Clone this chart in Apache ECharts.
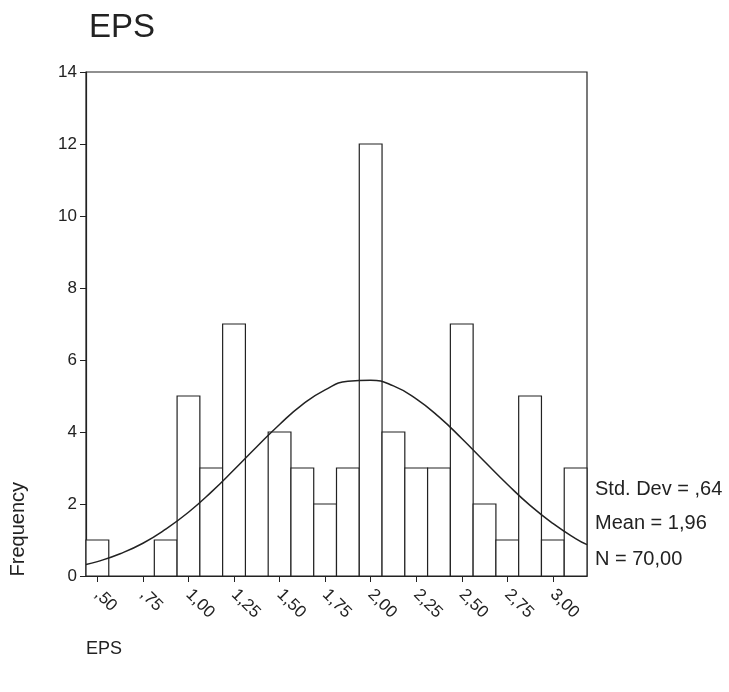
<!DOCTYPE html>
<html>
<head>
<meta charset="utf-8">
<script src="https://cdn.jsdelivr.net/npm/echarts@6/dist/echarts.min.js"></script>
<style>html,body{margin:0;padding:0;background:#fff;}#c{width:729px;height:692px;}</style>
</head>
<body>
<div id="c"></div>
<script>
// ---- data ----
const binCenters = [0.5,0.625,0.75,0.875,1.0,1.125,1.25,1.375,1.5,1.625,1.75,1.875,2.0,2.125,2.25,2.375,2.5,2.625,2.75,2.875,3.0,3.125];
const counts     = [1,0,0,1,5,3,7,0,4,3,2,3,12,4,3,3,7,2,1,5,1,3];
const binWidth = 0.125;
const curveX = [0.4375,0.5,0.625,0.75,0.875,1.0,1.125,1.25,1.375,1.5,1.625,1.75,1.875,2.0,2.125,2.25,2.375,2.5,2.625,2.75,2.875,3.0,3.125,3.1875];
const curveY = [0.32,0.40,0.62,0.91,1.30,1.77,2.33,2.95,3.59,4.21,4.76,5.17,5.41,5.44,5.28,4.92,4.42,3.82,3.18,2.55,1.96,1.46,1.04,0.87];
const xTickValues = [0.5,0.75,1.0,1.25,1.5,1.75,2.0,2.25,2.5,2.75,3.0];
const xTickLabels = [',50',',75','1,00','1,25','1,50','1,75','2,00','2,25','2,50','2,75','3,00'];
const yMin = 0, yMax = 14, yStep = 2;
const xMin = 0.4375, xMax = 3.1875;
const statsLines = ['Std. Dev = ,64', 'Mean = 1,96', 'N = 70,00'];
const titleText = 'EPS';
const xName = 'EPS';
const yName = 'Frequency';

const FONT = 'Liberation Sans, Arial, sans-serif';
const INK = '#222';

const chart = echarts.init(document.getElementById('c'), null, {renderer: 'canvas'});
const binData = binCenters.map((c, i) => [c, counts[i]]);
const curveData = curveX.map((x, i) => [x, curveY[i]]);

chart.setOption({
  backgroundColor: '#fff',
  animation: false,
  title: {
    text: titleText, left: 84, top: 6,
    textStyle: {fontFamily: FONT, fontSize: 33, fontWeight: 'normal', color: INK}
  },
  grid: {left: 86, right: 142, top: 72, bottom: 116, show: true, borderColor: INK, borderWidth: 1.2, backgroundColor: 'transparent'},
  xAxis: {
    type: 'value', min: xMin, max: xMax,
    splitLine: {show: false},
    axisLine: {show: true, lineStyle: {color: INK, width: 1.2}},
    axisTick: {show: true, customValues: xTickValues, length: 6, lineStyle: {color: INK}},
    axisLabel: {
      customValues: xTickValues, rotate: -45, margin: 16,
      fontFamily: FONT, fontSize: 17, color: INK,
      formatter: function (v) {
        const i = xTickValues.findIndex(t => Math.abs(t - v) < 1e-6);
        return i >= 0 ? xTickLabels[i] : '';
      }
    }
  },
  yAxis: {
    type: 'value', min: yMin, max: yMax, interval: yStep,
    splitLine: {show: false},
    axisLine: {show: true, lineStyle: {color: INK, width: 1.2}},
    axisTick: {show: true, length: 6, lineStyle: {color: INK}},
    axisLabel: {fontFamily: FONT, fontSize: 17, color: INK, margin: 9}
  },
  graphic: [
    {type: 'text', left: 8, top: 482, rotation: Math.PI / 2,
     style: {text: yName, font: '20px ' + FONT, fill: INK}},
    {type: 'text', left: 86, top: 640, style: {text: xName, font: '18px ' + FONT, fill: INK}},
    {type: 'text', left: 595, top: 479, style: {text: statsLines[0], font: '20px ' + FONT, fill: INK}},
    {type: 'text', left: 595, top: 513, style: {text: statsLines[1], font: '20px ' + FONT, fill: INK}},
    {type: 'text', left: 595, top: 549, style: {text: statsLines[2], font: '20px ' + FONT, fill: INK}}
  ],
  series: [
    {
      type: 'custom',
      data: binData,
      z: 2,
      renderItem: function (params, api) {
        const c = api.value(0), v = api.value(1);
        if (!v) return null;
        const p0 = api.coord([c - binWidth / 2, v]);
        const p1 = api.coord([c + binWidth / 2, 0]);
        return {
          type: 'rect',
          shape: {x: p0[0], y: p0[1], width: p1[0] - p0[0], height: p1[1] - p0[1]},
          style: {fill: '#fff', stroke: INK, lineWidth: 1.2}
        };
      }
    },
    {
      type: 'line', data: curveData, smooth: true, symbol: 'none', z: 3,
      lineStyle: {color: INK, width: 1.5}
    }
  ]
});
</script>
</body>
</html>
